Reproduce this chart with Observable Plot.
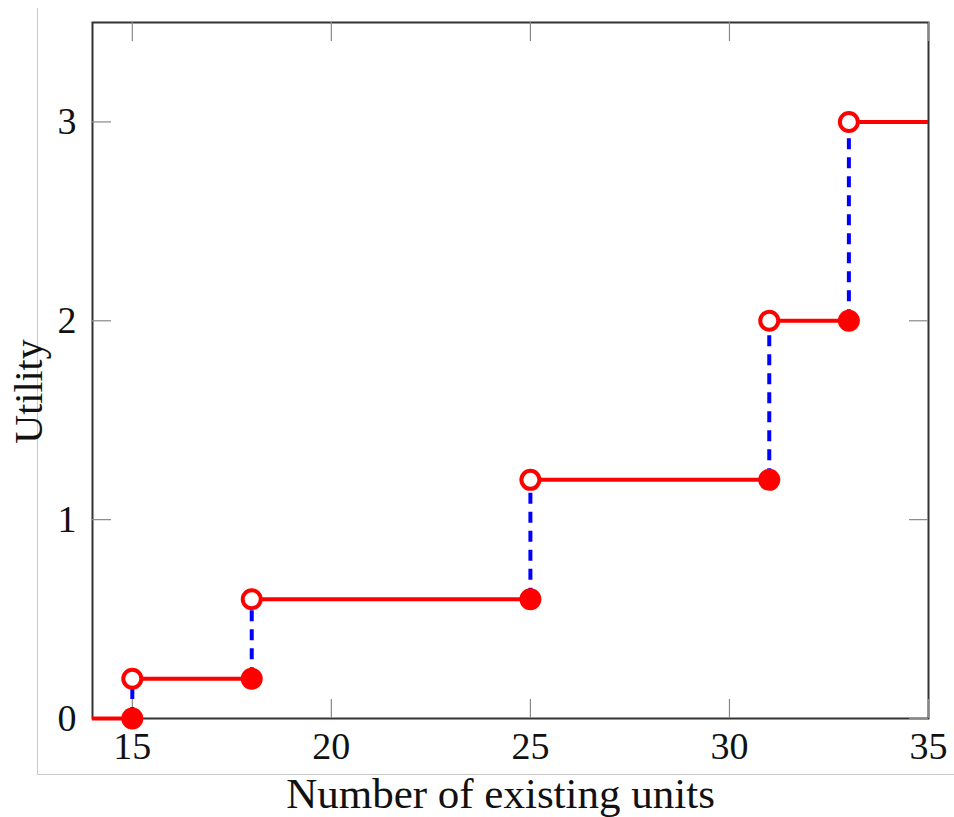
<!DOCTYPE html>
<html>
<head>
<meta charset="utf-8">
<script src="https://cdn.jsdelivr.net/npm/d3@7"></script>
<script src="https://cdn.jsdelivr.net/npm/@observablehq/plot@0.6"></script>
<style>
  html, body { margin: 0; padding: 0; background: #fff; }
  #wrap { position: relative; width: 954px; height: 817px; }
  #border { position: absolute; left: 37px; top: 8px; width: 917px; height: 766px;
            border-left: 1px solid #c8c8c8; border-bottom: 1px solid #c8c8c8; }
  #chart { position: absolute; left: 0; top: 0; }
</style>
</head>
<body>
<div id="wrap"><div id="border"></div><div id="chart"></div></div>
<script>
// Horizontal step segments (red)
const segStart = [14, 15, 18, 25, 31, 33];
const segEnd   = [15, 18, 25, 31, 33, 35];
const segValue = [0, 0.2, 0.6, 1.2, 2, 3];
// Jumps (blue dashed), filled dot at low value, open dot at high value
const jumpX    = [15, 18, 25, 31, 33];
const jumpLow  = [0, 0.2, 0.6, 1.2, 2];
const jumpHigh = [0.2, 0.6, 1.2, 2, 3];
// Axis ticks and labels
const xTicks = [15, 20, 25, 30, 35];
const yTicks = [0, 1, 2, 3];
const xLabel = "Number of existing units";
const yLabel = "Utility";

const W = 954, H = 817;
const mL = 92, mR = 26, mT = 22, mB = 99;
const frameH = H - mT - mB, frameW = W - mL - mR;
const tickLen = 19;

const segs = segStart.map((s, i) => ({x1: s, x2: segEnd[i], y: segValue[i]}));
const jumps = jumpX.map((x, i) => ({x, lo: jumpLow[i], hi: jumpHigh[i]}));

const chart = Plot.plot({
  width: W, height: H,
  marginLeft: mL, marginRight: mR, marginTop: mT, marginBottom: mB,
  style: {fontFamily: "'Liberation Serif', 'DejaVu Serif', serif", fontSize: "38px", color: "#111", background: "transparent", overflow: "visible"},
  x: {domain: [14, 35]},
  y: {domain: [0, 3.5]},
  marks: [
    Plot.frame({stroke: "#333", strokeWidth: 2}),
    Plot.axisX(xTicks, {tickSize: 0, tickPadding: 14, tickFormat: "d", label: null, fontSize: 38}),
    Plot.axisY(yTicks, {tickSize: 0, tickPadding: 16, tickFormat: "d", label: null, fontSize: 38}),
    // inward ticks
    Plot.tickX(xTicks, {x: d => d, insetTop: frameH - tickLen, stroke: "#888", strokeWidth: 1.2}),
    Plot.tickX(xTicks, {x: d => d, insetBottom: frameH - tickLen, stroke: "#888", strokeWidth: 1.2}),
    Plot.tickY(yTicks, {y: d => d, insetRight: frameW - tickLen, stroke: "#888", strokeWidth: 1.2}),
    Plot.tickY(yTicks, {y: d => d, insetLeft: frameW - tickLen, stroke: "#888", strokeWidth: 1.2}),
    Plot.ruleY(segs, {x1: "x1", x2: "x2", y: "y", stroke: "#ff0000", strokeWidth: 4}),
    Plot.ruleX(jumps, {x: "x", y1: "lo", y2: "hi", stroke: "#0000ff", strokeWidth: 4, strokeDasharray: "11,8"}),
    Plot.dot(jumps, {x: "x", y: "lo", r: 11, fill: "#ff0000", stroke: "none"}),
    Plot.dot(jumps, {x: "x", y: "hi", r: 9, fill: "#fff", stroke: "#ff0000", strokeWidth: 4}),
    // axis titles
    Plot.text([xLabel], {text: d => d, frameAnchor: "bottom", dx: -10, dy: 76, fontSize: 43, textAnchor: "middle", lineAnchor: "middle", fill: "#111"}),
    Plot.text([yLabel], {text: d => d, frameAnchor: "left", dx: -63, dy: 21, fontSize: 40, rotate: -90, textAnchor: "middle", lineAnchor: "middle", fill: "#111"})
  ]
});
document.getElementById("chart").appendChild(chart);
</script>
</body>
</html>
